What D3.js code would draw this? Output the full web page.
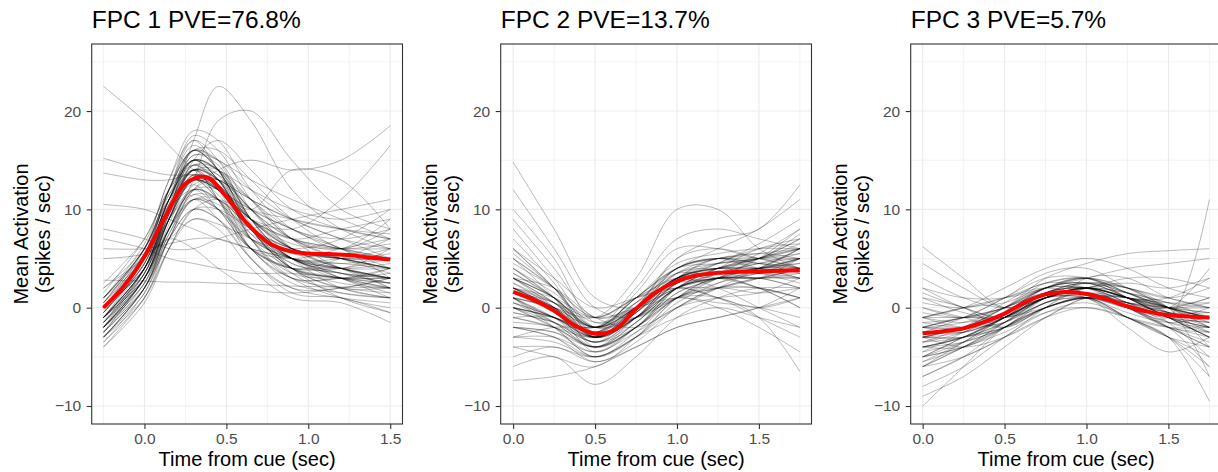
<!DOCTYPE html>
<html>
<head>
<meta charset="utf-8">
<script src="https://cdn.jsdelivr.net/npm/d3@7"></script>
<style>
  body { margin: 0; background: #fff; }
  svg { display: block; font-family: "Liberation Sans", Arial, Helvetica, sans-serif; }
</style>
</head>
<body>
<svg id="chart" width="1218" height="472"></svg>
<script>
// ---- data ----
const titles = ["FPC 1 PVE=76.8%", "FPC 2 PVE=13.7%", "FPC 3 PVE=5.7%"];
const xTicks = [0, 0.5, 1.0, 1.5];
const yTicks = [-10, 0, 10, 20];

// knot times for the individual curves
const fpc1Times = [-0.25, 0, 0.15, 0.3, 0.45, 0.65, 0.9, 1.2, 1.5];
const fpc2Times = [0, 0.25, 0.5, 0.75, 1.0, 1.25, 1.5, 1.75];
const fpc3Times = [0, 0.25, 0.5, 0.75, 1.0, 1.25, 1.5, 1.75];

// knot times for the red mean curves
const mean1Times = [-0.25, -0.125, 0, 0.125, 0.25, 0.375, 0.5, 0.625, 0.75, 0.875, 1.0, 1.125, 1.25, 1.375, 1.5];
const mean23Times = [0, 0.125, 0.25, 0.375, 0.5, 0.625, 0.75, 0.875, 1.0, 1.125, 1.25, 1.375, 1.5, 1.625, 1.75];

const mean1 = [0.0, 2.2, 5.2, 9.2, 12.6, 13.3, 11.3, 8.6, 6.7, 5.8, 5.5, 5.45, 5.35, 5.1, 4.9];
const mean2 = [1.6, 0.8, -0.3, -1.8, -2.65, -2.2, -0.1, 1.6, 2.7, 3.3, 3.55, 3.65, 3.7, 3.75, 3.8];
const mean3 = [-2.6, -2.4, -2.1, -1.45, -0.6, 0.55, 1.35, 1.6, 1.4, 0.85, 0.15, -0.4, -0.75, -0.9, -1.0];

const curves1 = [
  [-1, 4, 10, 15, 14, 9, 5, 4, 3],
  [-2, 3, 9, 13, 12, 7, 4, 3, 2.5],
  [0, 5, 11, 16, 15, 10, 6, 5, 5],
  [-3, 2, 8, 12, 11, 6, 3, 2, 1.5],
  [1, 6, 12, 17, 15, 9, 5, 4, 6],
  [-1.5, 4, 10, 14, 12, 6, 3, 3, 4],
  [0.5, 6, 11, 14, 13, 9, 7, 6, 5],
  [-2.5, 3, 8, 11, 10, 7, 5, 4, 3],
  [-0.5, 5, 12, 16, 14, 8, 4, 2, 2],
  [1.5, 7, 12, 15, 14, 11, 8, 7, 8],
  [-1, 3.5, 9, 13, 13, 10, 6, 4, 3],
  [-3.5, 1.5, 7, 10, 9, 6, 4, 4, 5],
  [0, 5.5, 12, 17.5, 16, 11, 7, 5, 4],
  [-2, 4, 10, 14, 11, 5, 2, 2, 3],
  [2, 6, 11, 13, 12, 9, 7, 8, 9],
  [-1, 4.5, 11, 15, 13, 7, 3, 1, 0],
  [0.5, 5, 10, 12, 10, 6, 5, 6, 7],
  [-2, 2.5, 8, 12.5, 13, 10, 6, 3, 2],
  [1, 6.5, 13, 18, 17, 12, 8, 6, 4],
  [-1.5, 3, 9, 13.5, 12, 8, 5, 5, 6],
  [-0.5, 4.5, 10, 12.5, 10, 6, 4, 3, 2],
  [0, 5, 11, 15.5, 15, 12, 9, 7, 5],
  [-2.5, 2, 7.5, 11, 10.5, 8, 6, 5, 4],
  [-1, 5, 12, 16.5, 14, 7, 3, 3, 3.5],
  [0.5, 6, 11.5, 14, 11, 6, 4, 5, 7],
  [-3, 1, 6, 10, 11, 9, 5, 2, 1],
  [2.5, 7, 12, 14.5, 13, 10, 8, 6, 3],
  [-1.5, 3.5, 9.5, 14.5, 14, 9, 4, 2, 1],
  [0, 4, 9, 11.5, 10, 7, 6, 7, 10],
  [-2, 3, 9, 13, 11, 6, 4, 4, 2],
  [1, 5.5, 10.5, 13, 12, 10, 9, 8, 7],
  [-0.5, 5, 11, 15, 13, 8, 5, 3, 4],
  [-1, 4, 10.5, 16, 16, 13, 9, 6, 5],
  [0, 6, 13, 17, 14, 9, 6, 4, 2],
  [-2, 2, 7, 12, 13, 11, 7, 4, 3],
  [22.5, 19, 16.5, 14, 12, 9, 7, 6, 5],
  [15.2, 14, 13.5, 13.5, 13, 11, 9, 7, 6],
  [10.5, 10, 9, 8, 7, 6, 5, 4.5, 4],
  [6, 6, 6.5, 7, 7, 6, 5, 4, 3],
  [2.8, 2.7, 2.6, 2.6, 2.5, 2.4, 2.2, 2.1, 2],
  [7, 6, 5, 4.5, 4, 3.5, 3.5, 3, 2.5],
  [8, 7, 6, 6, 7, 8, 9, 10, 11],
  [-1, 3, 8, 13, 19, 20, 15, 10, 8],
  [0, 4, 10, 17, 22.5, 19, 12, 8, 6],
  [-1, 3, 8, 12, 14, 15, 14, 15, 18.5],
  [0, 4, 9, 12, 11, 9, 8, 11, 16.5],
  [1, 5, 10, 13, 12, 10, 14, 13, 8],
  [-4, 1, 6, 9, 8, 4, 1, 0.5, -1.5],
  [-3, 2, 7, 10, 9, 5, 1.5, 1, -0.5],
  [2, 5, 7, 6, 4, 2, 1.5, 2, 3],
  [5, 5.5, 7, 9, 8.5, 7, 5, 3, 1],
  [13.7, 13, 13, 13.5, 12, 9, 6, 5, 5],
  [-2, 3, 9, 15, 17, 14, 10, 8, 7],
  [0, 5, 10, 14, 14, 11, 7, 6, 9],
  [-2, 3, 9.5, 14, 13, 8, 4.5, 3.5, 3],
  [-1, 4, 10, 14.5, 13.5, 9, 6, 5, 4],
  [-3, 2, 8.5, 13, 12.5, 8, 4, 3, 2],
  [0, 5, 11, 15, 13, 8, 5, 4, 4],
  [-1.5, 3.5, 10, 15.5, 14.5, 9, 5, 3.5, 2.5],
  [-2.5, 2.5, 9, 14, 13, 7, 3.5, 3, 3],
  [-0.5, 4.5, 10.5, 14, 12, 8, 6, 5, 5.5],
  [-3, 2, 8, 12, 12, 9, 6, 4, 3],
  [0.5, 5.5, 11.5, 15, 13, 8, 4, 3, 3],
  [-1, 4, 10, 13, 11, 7, 5, 4.5, 5],
  [-2, 3.5, 10, 15, 14, 10, 7, 5, 3.5],
  [-1.5, 4, 11, 16, 14, 8, 4, 2.5, 2],
  [-0.5, 4.5, 10, 13.5, 12.5, 9, 6.5, 6, 6],
  [-2.5, 3, 9, 13, 11.5, 7, 5, 4, 4.5],
  [-3.5, 1, 7, 11, 11, 8, 5, 3, 1.5],
  [0, 5, 11, 14.5, 12.5, 7.5, 4.5, 3.5, 3],
  [-1, 3.5, 9.5, 14, 13.5, 10, 7, 6, 6.5],
  [-2, 2.5, 8, 12, 11, 7.5, 5.5, 5, 4],
  [1, 6, 12, 16, 14, 8.5, 5, 3.5, 2.5],
  [-1.5, 3, 9, 13.5, 12.5, 8, 3.5, 1.5, 1],
  [-2, 3, 8, 11, 9, 5, 2, 1, 0.5],
  [-1, 4, 10, 14, 13, 11, 9, 8, 7.5],
  [-3, 1.5, 7, 11, 10, 6, 2.5, 1.5, 1],
  [0, 5, 11, 15, 14, 12, 10, 9, 10],
  [-2.5, 2, 7.5, 11.5, 11, 8, 4, 1, -0.5],
  [-1, 4, 9.5, 13, 12, 10, 8, 6, 8],
  [-4, 0.5, 6, 10, 10, 8, 6, 5, 4],
  [1, 6, 12, 16, 15, 13, 11, 9, 7]
];

const curves2 = [
  [2, 0, -3, -1, 3, 4, 4, 5],
  [4, 1, -2, 1, 4, 5, 5, 6],
  [0, -1.5, -3.5, -2, 1, 3, 4, 4],
  [6, 2, -2, 0, 3, 3, 3, 2],
  [-2, -2.5, -4, -2, 1, 2, 3, 5],
  [3, 0.5, -3, -0.5, 4, 5, 4.5, 4],
  [1, -1, -2.5, 0, 3, 4, 5, 7],
  [8, 3, -2, -1, 2, 3, 3, 3],
  [-4, -4, -5, -3, 0, 2, 2, 1],
  [2.5, 0, -3.5, 0, 5, 6, 5, 4],
  [5, 2, -1, 1, 3, 3.5, 4, 6],
  [0, -2, -4, -1.5, 2, 3, 3, 2],
  [1.5, 0.5, -2, 1, 4, 4.5, 5, 7.5],
  [-1, -1, -3, -1, 2, 3.5, 4.5, 5],
  [3.5, 1, -2, 0.5, 3.5, 3, 2, 0],
  [7, 2.5, -3, -1, 2, 4, 5, 6],
  [-3, -3, -4.5, -2.5, 0, 1, 1.5, 3],
  [2, 0, -2.5, 1.5, 6, 6, 5, 5],
  [0.5, -1, -3, 0, 3, 4, 4, 3],
  [4, 1.5, -1.5, 0, 2, 3.5, 5.5, 8],
  [-5, -4, -5.5, -4, -2, -1, 0, 1],
  [9, 4, -1, 0, 2, 3, 4, 5],
  [1, -1.5, -4, -2, 1.5, 3, 5, 6],
  [3, 1, -2.5, -1, 2.5, 4.5, 6, 6.5],
  [-1.5, -2, -4, -1, 3, 5, 4, 3],
  [2, 0.5, -1, 1, 3, 2, 0, -2],
  [5.5, 2, -2.5, 0, 4, 5, 4, 5],
  [0, -1, -3, -0.5, 2.5, 3.5, 3, 3.5],
  [6, 3, 0, 1, 2, 2, 2, 1],
  [14.8, 8, 1, 0, 2, 3, 3, 4],
  [12, 6, 0, -1, 1, 2, 3, 3],
  [10, 5, -1.5, 0, 3, 5, 5, 4],
  [-7.4, -7, -6, -4, -2, -1, 0, 2],
  [-6, -5, -7.8, -5, -1, 1, 2, 2],
  [-4, -5, -6, -3, 1, 3, 2, 0],
  [1, 0, -1, 3, 10, 10, 6, 4],
  [0, -1, -2, 2, 7, 8, 7, 6],
  [2, 1, -1, 1, 2, 1, -1, -3],
  [3, 1, -2, -1, 1, 1, -1, -6.5],
  [-1, -2, -3, -1, 1, 0, -2, -4.5],
  [2, 0, -3, 0, 5, 7, 8, 12.5],
  [1, -1, -2, 1, 4, 6, 8, 11],
  [0, -1, -2.5, 0, 2, 1, 0, 1],
  [-2, -3, -5, -3, -1, 0, -1, -2],
  [4.5, 2, -1, 0, 1, 0.5, 0, -1],
  [-3, -2, -2, -1, 1, 3, 5, 8],
  [1, 0, -2, 0, 3, 4.5, 6.5, 9],
  [3, 2, -1, -2, 0, 2, 4, 6],
  [1.5, -0.5, -3, -0.5, 3, 4, 4, 4.5],
  [3, 0.5, -2.5, 0, 3.5, 4.5, 5, 5.5],
  [0.5, -1, -3.5, -1, 2.5, 3.5, 4, 4],
  [2, 0, -2.5, 0.5, 4, 5, 5.5, 6],
  [-0.5, -1.5, -3.5, -1.5, 2, 3, 3.5, 3.5],
  [4, 1, -3, -1, 2.5, 3.5, 4, 5],
  [1, -1, -4, -2, 2, 4, 5, 5],
  [2.5, 0.5, -2, 0, 3, 3.5, 3.5, 3],
  [-1, -2, -4, -2, 1.5, 3, 4, 4.5],
  [3.5, 1, -3, -0.5, 3.5, 5, 5.5, 5],
  [0, -1, -3, 0, 3.5, 4, 3.5, 4],
  [2, -0.5, -3.5, -1, 3, 4.5, 5, 6.5],
  [5, 2, -2, 0, 3, 4, 4.5, 4],
  [1, 0, -2, 0.5, 2.5, 3, 3.5, 5],
  [-2, -2.5, -4.5, -2, 1, 2.5, 3.5, 4],
  [3, 1, -2, 1, 4.5, 5.5, 6, 6],
  [0.5, -1.5, -4, -1.5, 2, 3.5, 4.5, 5.5],
  [2, 0.5, -3, -0.5, 3, 4, 3.5, 2.5],
  [6, 2, -3, -1, 2.5, 4, 5, 7],
  [-0.5, -1.5, -3, 0, 4, 5, 4.5, 3.5],
  [-2, -3, -5.5, -3.5, 0, 2, 3, 4],
  [1, -2, -5, -3, 1, 3, 2, 1],
  [3, 0, -4.5, -2, 2, 3, 3, 4],
  [-3, -3.5, -5, -3, 0.5, 2.5, 4, 6],
  [5, 1, -4, -2, 2, 4, 6, 7],
  [0, -2, -5, -2.5, 1, 2, 1.5, 2]
];

const curves3 = [
  [-3, -2, 0, 2, 2, 1, -1, -2],
  [-5, -3, -1, 1, 2, 0, -2, -4],
  [0, -1, 0, 2, 3, 2, 1, 0],
  [-6, -4, -2, 0, 1, -1, -3, -5],
  [2, 0, -1, 1, 2, 1, 0, 1],
  [-4, -3, -1, 2, 3, 1, -1, -3],
  [-2, -2.5, -1, 1, 1, -0.5, -1.5, -1],
  [-7, -5, -2, 0, 1, 0, -2, -6],
  [1, -0.5, -1, 1.5, 2.5, 2, 1, 2],
  [-3.5, -2, 0.5, 2.5, 2, 0, -2, -2.5],
  [-1, -2, -1.5, 0.5, 1, 0, 0, 1],
  [-5.5, -4, -1.5, 1.5, 2, 0.5, -1, -2],
  [3, 1, 0, 1, 2, 1.5, 0.5, -1],
  [-8, -6, -3, -0.5, 0.5, -1, -3, -7],
  [-2, -1, 0, 1.5, 1.5, 0, -1, 0],
  [-4, -4, -2, 1, 2.5, 2, 0, -1],
  [0, -1, -2, 0, 1, -1, -3, -4],
  [-1.5, -1, 1, 3, 3, 1, -1, -3],
  [-6, -3.5, -1, 1, 1.5, 0.5, 0, 0],
  [4.5, 2, 0, 1, 2, 1, 0, -2],
  [-3, -3, -2, 0, 1, 0.5, -0.5, -1.5],
  [-2.5, -1, 1, 3.5, 4, 2, 0, -1],
  [-5, -4, -2.5, -0.5, 0, -1, -2, -3],
  [-1, 0, 1, 2, 1, -1, -2, -2],
  [-7, -5, -3, 0, 2, 2, 0, -4],
  [1.5, 0, -1, 0.5, 2, 2.5, 2, 3],
  [-4.5, -2.5, -0.5, 2, 2.5, 1, -1.5, -5],
  [-2, -2, -1, 1, 2, 3, 3, 2],
  [-3, -4, -3, -1, 1, 1, 0, -1],
  [0.5, 0, 1, 2.5, 3, 1.5, 0, 0.5],
  [6.2, 3, 0, 1, 2, 1, 0, -1],
  [-10, -6, -2, 0, 1, 0, -2, -4],
  [-9, -7, -4, -1, 1, 1, -1, -3],
  [-1, 0, 2, 4, 5, 4, 2, 1],
  [-3, -2, 0, 3, 4.5, 5.5, 5.8, 6],
  [-2, -1, 0, 2, 3, 4, 4.5, 5],
  [-1, -1, -1, 0, 1, 0, -1, 11],
  [-4, -3, -1, 1, 1, -1, -3, -9.5],
  [-2, -1, -1, 1, 1, -2, -4.5, -3],
  [-5, -3, -1, 1, 2, 1, 0, -7],
  [1, 0, -2, 0, 1, 1, 0, 4],
  [-3, -2, -1.5, 1, 2, 1, 1, 3],
  [-6, -5, -3, -1, 0, -1, -3, -6],
  [2, 1, 1, 2, 3, 2, 0, -2],
  [-4, -3, -2, 0, 3, 3, 1, 0],
  [-3, -2.5, -1, 1.5, 2, 0.5, -1, -1.5],
  [-4, -3, -1, 1.5, 2, 1, -0.5, -2],
  [-2, -2, -0.5, 1.5, 2, 1, 0, -0.5],
  [-5, -3.5, -1.5, 1, 2, 1, -1, -2.5],
  [-1, -1.5, -0.5, 1.5, 2.5, 1.5, 0, -1],
  [-3.5, -3, -1.5, 1, 1.5, 0, -1.5, -2],
  [-2.5, -2, 0, 2, 2.5, 1, -1, -3],
  [-4.5, -3.5, -2, 0.5, 1.5, 0.5, -0.5, -1],
  [-1.5, -2, -1, 1, 2, 1.5, 0.5, 0],
  [-3, -2, -0.5, 2, 3, 1.5, -0.5, -2.5],
  [-5, -4, -2, 0.5, 1, 0, -1, -1.5],
  [-2, -1.5, 0, 2.5, 3, 1.5, 0, -1.5],
  [-6, -4, -1.5, 1, 1.5, 0, -2, -3.5],
  [-0.5, -1, 0, 1.5, 1.5, 0.5, -0.5, -0.5],
  [-3.5, -2.5, -0.5, 2, 2.5, 1, -1, -2],
  [-4, -3.5, -2, 0, 1, 0.5, 0, -0.5],
  [-2.5, -2.5, -1, 1, 2, 1, -0.5, -1],
  [-1, 0, 0.5, 2, 2, 0.5, -1.5, -2.5],
  [-5.5, -3.5, -1, 1.5, 2.5, 1.5, 0, -1],
  [-3, -3, -1.5, 0.5, 1.5, 1, 0.5, 0.5]
];

// ---- layout ----
const width = 1218, height = 472;
const plotTop = 44, plotBottom = 424, plotWidth = 310.8;
const yDomain = [-11.83, 26.82];

const panels = [
  { left: 91.7,  xDomain: [-0.322, 1.575], minorX: [-0.25, 0.25, 0.75, 1.25],
    times: fpc1Times, curves: curves1, meanTimes: mean1Times, mean: mean1 },
  { left: 500.7, xDomain: [-0.076, 1.821], minorX: [0.25, 0.75, 1.25, 1.75],
    times: fpc2Times, curves: curves2, meanTimes: mean23Times, mean: mean2 },
  { left: 910.7, xDomain: [-0.073, 1.824], minorX: [0.25, 0.75, 1.25, 1.75],
    times: fpc3Times, curves: curves3, meanTimes: mean23Times, mean: mean3 }
];
const minorY = [-5, 5, 15, 25];

const svg = d3.select("#chart");

panels.forEach((p, i) => {
  const x = d3.scaleLinear().domain(p.xDomain).range([p.left, p.left + plotWidth]);
  const y = d3.scaleLinear().domain(yDomain).range([plotBottom, plotTop]);
  const g = svg.append("g");

  // panel background + grid
  g.append("rect")
    .attr("x", p.left).attr("y", plotTop)
    .attr("width", plotWidth).attr("height", plotBottom - plotTop)
    .attr("fill", "#fff");

  g.selectAll(".minor-x").data(p.minorX).enter().append("line")
    .attr("x1", d => x(d)).attr("x2", d => x(d))
    .attr("y1", plotTop).attr("y2", plotBottom)
    .attr("stroke", "#ebebeb").attr("stroke-width", 0.6);
  g.selectAll(".minor-y").data(minorY).enter().append("line")
    .attr("x1", p.left).attr("x2", p.left + plotWidth)
    .attr("y1", d => y(d)).attr("y2", d => y(d))
    .attr("stroke", "#ebebeb").attr("stroke-width", 0.6);
  g.selectAll(".major-x").data(xTicks).enter().append("line")
    .attr("x1", d => x(d)).attr("x2", d => x(d))
    .attr("y1", plotTop).attr("y2", plotBottom)
    .attr("stroke", "#ebebeb").attr("stroke-width", 1.1);
  g.selectAll(".major-y").data(yTicks).enter().append("line")
    .attr("x1", p.left).attr("x2", p.left + plotWidth)
    .attr("y1", d => y(d)).attr("y2", d => y(d))
    .attr("stroke", "#ebebeb").attr("stroke-width", 1.1);

  // individual curves
  const line = d3.line()
    .x(d => x(d[0])).y(d => y(d[1]))
    .curve(d3.curveCatmullRom.alpha(0.5));

  g.selectAll(".curve").data(p.curves).enter().append("path")
    .attr("d", c => line(c.map((v, k) => [p.times[k], v])))
    .attr("fill", "none")
    .attr("stroke", "#000")
    .attr("stroke-opacity", 0.36)
    .attr("stroke-width", 0.75);

  // mean curve
  g.append("path")
    .attr("d", line(p.mean.map((v, k) => [p.meanTimes[k], v])))
    .attr("fill", "none")
    .attr("stroke", "#ff0000")
    .attr("stroke-width", 4)
    .attr("stroke-linecap", "butt");

  // border
  g.append("rect")
    .attr("x", p.left).attr("y", plotTop)
    .attr("width", plotWidth).attr("height", plotBottom - plotTop)
    .attr("fill", "none").attr("stroke", "#333333").attr("stroke-width", 1.1);

  // axes
  const xAxis = g.append("g")
    .attr("transform", `translate(0,${plotBottom})`)
    .call(d3.axisBottom(x).tickValues(xTicks).tickFormat(d3.format(".1f"))
      .tickSize(5).tickPadding(4.3));
  const yAxis = g.append("g")
    .attr("transform", `translate(${p.left},0)`)
    .call(d3.axisLeft(y).tickValues(yTicks).tickSize(5).tickPadding(5.5));

  [xAxis, yAxis].forEach(a => {
    a.select(".domain").remove();
    a.selectAll(".tick line").attr("stroke", "#333333").attr("stroke-width", 1.1);
    a.selectAll(".tick text")
      .attr("fill", "#4d4d4d")
      .style("font-size", "15.5px")
      .style("font-family", "'Liberation Sans', Arial, sans-serif");
  });

  // titles
  g.append("text")
    .attr("x", p.left).attr("y", 28)
    .style("font-size", "24.5px")
    .attr("fill", "#000")
    .text(titles[i]);

  g.append("text")
    .attr("x", p.left + plotWidth / 2).attr("y", 465.5)
    .attr("text-anchor", "middle")
    .style("font-size", "20px")
    .attr("fill", "#000")
    .text("Time from cue (sec)");

  const yTitle = g.append("text")
    .attr("transform", `translate(${p.left - 64},${(plotTop + plotBottom) / 2}) rotate(-90)`)
    .attr("text-anchor", "middle")
    .style("font-size", "20px")
    .attr("fill", "#000");
  yTitle.append("tspan").attr("x", 0).attr("dy", 0).text("Mean Activation");
  yTitle.append("tspan").attr("x", 0).attr("dy", 22).text("(spikes / sec)");
});
</script>
</body>
</html>
